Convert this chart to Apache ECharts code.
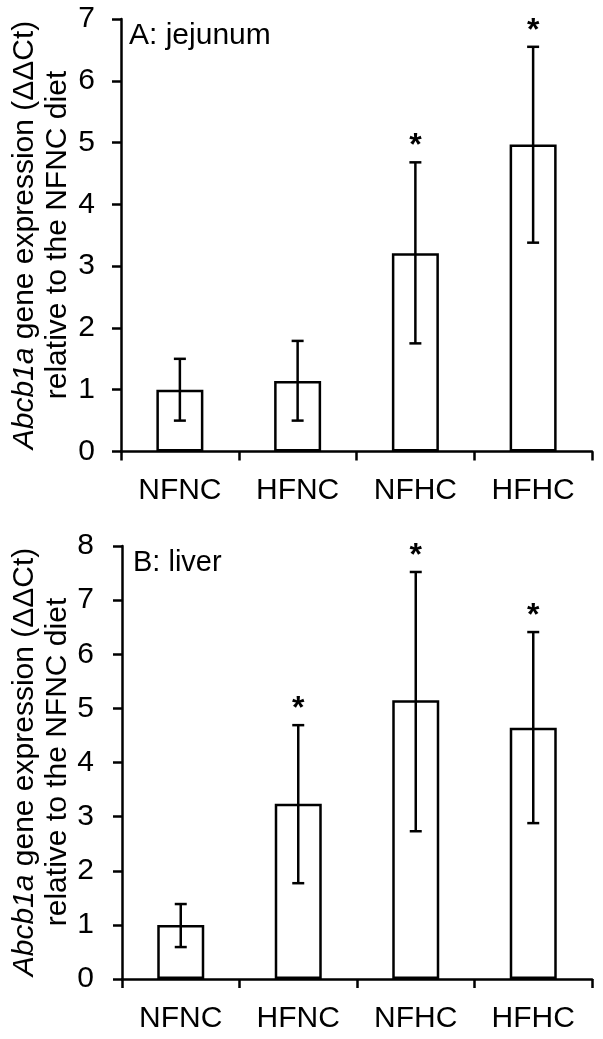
<!DOCTYPE html>
<html>
<head>
<meta charset="utf-8">
<script src="https://cdn.jsdelivr.net/npm/echarts@6/dist/echarts.min.js"></script>
<style>
html,body{margin:0;padding:0;background:#fff;}
#chart{width:603px;height:1039px;}
</style>
</head>
<body>
<div id="chart"></div>
<script>
// ---- data ----
var categories = ['NFNC', 'HFNC', 'NFHC', 'HFHC'];

var jejunumMean = [1.0, 1.14, 3.21, 4.97];
var jejunumErrLow = [0.50, 0.50, 1.75, 3.38];
var jejunumErrHigh = [1.50, 1.79, 4.68, 6.55];
var jejunumSig = [0, 0, 1, 1];

var liverMean = [1.0, 3.24, 5.15, 4.64];
var liverErrLow = [0.59, 1.77, 2.73, 2.88];
var liverErrHigh = [1.385, 4.69, 7.52, 6.41];
var liverSig = [0, 1, 1, 1];

var yTicksA = { min: 0, max: 7, interval: 1 };
var yTicksB = { min: 0, max: 8, interval: 1 };

var panelLabelA = 'A: jejunum';
var panelLabelB = 'B: liver';
var yTitleLine1 = 'gene expression (ΔΔCt)';
var yTitleGene = 'Abcb1a';
var yTitleLine2 = 'relative to the NFNC diet';

// ---- chart ----
var FONT = "'Liberation Sans', Arial, Helvetica, sans-serif";
var LW = 2.5;
var chart = echarts.init(document.getElementById('chart'), null, { renderer: 'canvas' });

function errData(low, high, sig) {
  return categories.map(function (c, i) { return [i, low[i], high[i], sig[i]]; });
}

function renderErr(params, api) {
  var idx = api.value(0);
  var top = api.coord([idx, api.value(2)]);
  var bot = api.coord([idx, api.value(1)]);
  var hw = 6;
  var st = { stroke: '#000', lineWidth: LW };
  var children = [
    { type: 'line', shape: { x1: top[0], y1: top[1], x2: bot[0], y2: bot[1] }, style: st },
    { type: 'line', shape: { x1: top[0] - hw, y1: top[1], x2: top[0] + hw, y2: top[1] }, style: st },
    { type: 'line', shape: { x1: bot[0] - hw, y1: bot[1], x2: bot[0] + hw, y2: bot[1] }, style: st }
  ];
  if (api.value(3)) {
    children.push({
      type: 'text',
      style: {
        text: '*', x: top[0], y: top[1] - 16,
        align: 'center', verticalAlign: 'middle',
        font: 'bold 32px ' + FONT, fill: '#000'
      }
    });
  }
  return { type: 'group', children: children };
}

function xAxisCfg(gridIndex, margin) {
  return {
    type: 'category', gridIndex: gridIndex, data: categories,
    boundaryGap: true,
    axisLine: { lineStyle: { color: '#000', width: LW } },
    axisTick: { show: true, alignWithLabel: false, length: 9, lineStyle: { color: '#000', width: LW } },
    axisLabel: { color: '#000', fontSize: 30, fontFamily: FONT, margin: margin, interval: 0 },
    splitLine: { show: false }
  };
}
function yAxisCfg(gridIndex, t, margin) {
  return {
    type: 'value', gridIndex: gridIndex, min: t.min, max: t.max, interval: t.interval,
    axisLine: { show: true, lineStyle: { color: '#000', width: LW } },
    axisTick: { show: true, length: 9, lineStyle: { color: '#000', width: LW } },
    axisLabel: { color: '#000', fontSize: 30, fontFamily: FONT, margin: margin },
    splitLine: { show: false }
  };
}

var barStyle = { color: '#fff', borderColor: '#000', borderWidth: LW };

function yTitle(cy) {
  return {
    type: 'text', x: 41.5, y: cy, rotation: Math.PI / 2,
    style: {
      text: '{i|' + yTitleGene + '} ' + yTitleLine1 + '\n' + yTitleLine2,
      align: 'center', verticalAlign: 'middle',
      font: '30px ' + FONT, fill: '#000', lineHeight: 33,
      rich: {
        i: { fontStyle: 'italic', fontSize: 30, fontFamily: FONT, lineHeight: 33, fill: '#000' }
      }
    }
  };
}

var option = {
  animation: false,
  backgroundColor: '#fff',
  textStyle: { fontFamily: FONT },
  grid: [
    { left: 121, right: 11, top: 19, bottom: 587.5 },
    { left: 122, right: 11, top: 546, bottom: 60 }
  ],
  xAxis: [xAxisCfg(0, 24), xAxisCfg(1, 25)],
  yAxis: [yAxisCfg(0, yTicksA, 26), yAxisCfg(1, yTicksB, 28)],
  series: [
    { type: 'bar', xAxisIndex: 0, yAxisIndex: 0, data: jejunumMean, barWidth: 47, itemStyle: barStyle, z: 2 },
    { type: 'custom', xAxisIndex: 0, yAxisIndex: 0, data: errData(jejunumErrLow, jejunumErrHigh, jejunumSig),
      renderItem: renderErr, encode: { x: 0, y: [1, 2] }, z: 3, clip: false },
    { type: 'bar', xAxisIndex: 1, yAxisIndex: 1, data: liverMean, barWidth: 47, itemStyle: barStyle, z: 2 },
    { type: 'custom', xAxisIndex: 1, yAxisIndex: 1, data: errData(liverErrLow, liverErrHigh, liverSig),
      renderItem: renderErr, encode: { x: 0, y: [1, 2] }, z: 3, clip: false }
  ],
  graphic: [
    { type: 'text', x: 129, y: 36, style: { text: panelLabelA, font: '30px ' + FONT, fill: '#000', align: 'left', verticalAlign: 'middle' } },
    { type: 'text', x: 133, y: 563, style: { text: panelLabelB, font: '29px ' + FONT, fill: '#000', align: 'left', verticalAlign: 'middle' } },
    yTitle(235),
    yTitle(762)
  ]
};
chart.setOption(option);
</script>
</body>
</html>
